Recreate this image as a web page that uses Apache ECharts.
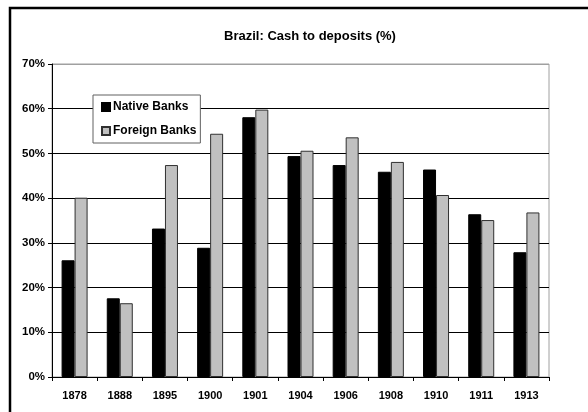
<!DOCTYPE html>
<html>
	<head>
		<meta charset="utf-8">
		<title></title>
		<script type="text/javascript" src="https://cdn.jsdelivr.net/npm/echarts@6/dist/echarts.min.js"></script>
		<style>
			html, body { margin: 0; padding: 0; background: #fff; }
			#chart { width: 588px; height: 412px; }
		</style>
	</head>
	<body>
		<div id="chart"></div>
		<script type="text/javascript">
			var years = ["1878", "1888", "1895", "1900", "1901", "1904", "1906", "1908", "1910", "1911", "1913"];
			var nativeBanks = [26.1, 17.6, 33.2, 28.9, 58.1, 49.4, 47.4, 45.9, 46.4, 36.4, 27.9];
			var foreignBanks = [40.1, 16.5, 47.4, 54.4, 59.8, 50.6, 53.6, 48.1, 40.7, 35.1, 36.8];
			var yTicks = [0, 10, 20, 30, 40, 50, 60, 70];

			var font = "'Liberation Sans', Arial, sans-serif";
			var myChart = echarts.init(document.getElementById('chart'));

			var option = {
				backgroundColor: '#fff',
				animation: false,
				title: {
					text: 'Brazil: Cash to deposits (%)',
					left: 305,
					textAlign: 'center',
					top: 25,
					textStyle: { fontFamily: font, fontSize: 13, fontWeight: 'bold', color: '#000' }
				},
				graphic: [{
					type: 'rect',
					shape: { x: 10, y: 8, width: 620, height: 440 },
					style: { fill: 'none', stroke: '#000', lineWidth: 2.5 },
					silent: true
				}],
				legend: {
					orient: 'vertical',
					left: 93,
					top: 95,
					padding: [5, 4, 5, 8],
					itemGap: 10,
					itemWidth: 8,
					itemHeight: 8,
					icon: 'rect',
					borderColor: '#606060',
					borderWidth: 1,
					backgroundColor: '#fff',
					textStyle: { fontFamily: font, fontSize: 12, lineHeight: 14, fontWeight: 'bold', color: '#000', padding: [0, 0, 0, -2] },
					data: ['Native Banks', 'Foreign Banks']
				},
				grid: {
					left: 52,
					right: 39,
					top: 64,
					bottom: 35,
					show: true,
					borderColor: '#a0a0a0',
					borderWidth: 1,
					containLabel: false
				},
				xAxis: {
					type: 'category',
					data: years,
					axisLine: { lineStyle: { color: '#000', width: 1 } },
					axisTick: { show: true, length: 4, lineStyle: { color: '#000' } },
					axisLabel: { fontFamily: font, fontSize: 11, fontWeight: 'bold', color: '#000', margin: 13 }
				},
				yAxis: {
					type: 'value',
					min: yTicks[0],
					max: yTicks[yTicks.length - 1],
					interval: 10,
					axisLine: { show: true, lineStyle: { color: '#000', width: 1 } },
					axisTick: { show: true, length: 4, lineStyle: { color: '#000' } },
					axisLabel: { fontFamily: font, fontSize: 11.5, fontWeight: 'bold', color: '#000', margin: 7, formatter: '{value}%' },
					splitLine: {
						show: true,
						lineStyle: { color: ['#000', '#000', '#000', '#000', '#000', '#000', '#000', '#a0a0a0'], width: 1 }
					}
				},
				series: [{
					name: 'Native Banks',
					type: 'bar',
					data: nativeBanks,
					barWidth: 13,
					barGap: '0%',
					itemStyle: { color: '#000', borderColor: '#000', borderWidth: 1 }
				}, {
					name: 'Foreign Banks',
					type: 'bar',
					data: foreignBanks,
					barWidth: 13,
					barGap: '0%',
					itemStyle: { color: '#c0c0c0', borderColor: '#303030', borderWidth: 1 }
				}]
			};

			myChart.setOption(option);
		</script>
	</body>
</html>
